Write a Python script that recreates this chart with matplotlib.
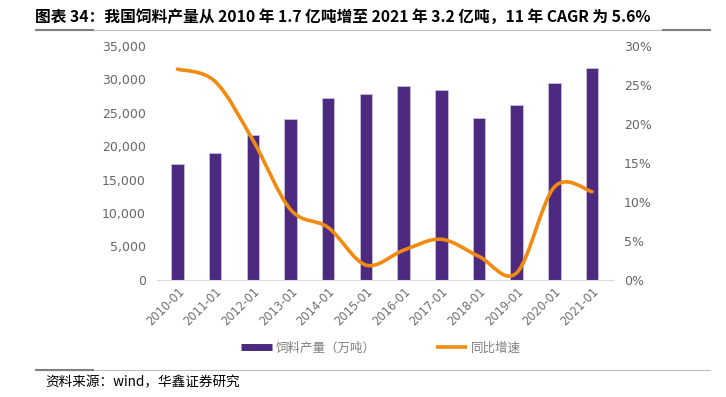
import matplotlib
matplotlib.use("Agg")
import matplotlib.pyplot as plt
from matplotlib.path import Path
from matplotlib.patches import PathPatch
from matplotlib.lines import Line2D
from matplotlib.ticker import FuncFormatter, MultipleLocator
import numpy as np

plt.rcParams['font.family'] = ['Noto Sans CJK SC', 'DejaVu Sans']

categories = ["2010-01", "2011-01", "2012-01", "2013-01", "2014-01", "2015-01",
              "2016-01", "2017-01", "2018-01", "2019-01", "2020-01", "2021-01"]
production = [17300, 19000, 21600, 24000, 27200, 27800, 29000, 28400, 24200, 26100, 29400, 31600]
growth = [27.0, 25.4, 17.9, 9.0, 6.7, 1.9, 3.8, 5.2, 3.0, 0.9, 11.9, 11.3]

title = "图表 34：我国饲料产量从 2010 年 1.7 亿吨增至 2021 年 3.2 亿吨，11 年 CAGR 为 5.6%"
source = "资料来源：wind，华鑫证券研究"
bar_label = "饲料产量（万吨）"
line_label = "同比增速"

purple = "#4B2A80"
orange = "#F28A0F"
gray_txt = "#7F7F7F"

fig = plt.figure(figsize=(7.26, 3.97), dpi=100)
ax = fig.add_axes([0.216, 0.295, 0.628, 0.590])
ax2 = ax.twinx()

x = np.arange(len(categories))
ax.bar(x, production, width=0.33, color=purple, edgecolor="#C9BEDD", linewidth=0.6, zorder=2)

ax.set_xlim(-0.55, len(categories) - 0.45)
ax.set_ylim(0, 35000)
ax.yaxis.set_major_locator(MultipleLocator(5000))
ax.yaxis.set_major_formatter(FuncFormatter(lambda v, p: f"{int(v):,}"))
ax2.set_ylim(0, 30)
ax2.yaxis.set_major_locator(MultipleLocator(5))
ax2.yaxis.set_major_formatter(FuncFormatter(lambda v, p: f"{int(v)}%"))

for a in (ax, ax2):
    for s in ("top", "left", "right"):
        a.spines[s].set_visible(False)
    a.spines["bottom"].set_color("#D9D9D9")
    a.tick_params(length=0, labelsize=9, labelcolor="#666666", pad=8)
ax2.spines["bottom"].set_visible(False)

ax.set_xticks(x)
ax.set_xticklabels(categories, rotation=45, ha="right", rotation_mode="anchor",
                   fontsize=8.3, family="DejaVu Sans", color="#6E6E6E")
ax.tick_params(axis="x", pad=4)
for lab in ax.get_yticklabels() + ax2.get_yticklabels():
    lab.set_family("DejaVu Sans")

# smoothed line (Catmull-Rom -> cubic Bezier through the data points)
pts = np.column_stack([x, growth]).astype(float)
n = len(pts)
verts = [tuple(pts[0])]
codes = [Path.MOVETO]
for i in range(n - 1):
    p0 = pts[i - 1] if i > 0 else pts[i]
    p1 = pts[i]
    p2 = pts[i + 1]
    p3 = pts[i + 2] if i + 2 < n else pts[i + 1]
    c1 = p1 + (p2 - p0) / 6.0
    c2 = p2 - (p3 - p1) / 6.0
    verts += [tuple(c1), tuple(c2), tuple(p2)]
    codes += [Path.CURVE4] * 3
path = Path(verts, codes)
ax2.add_patch(PathPatch(path, facecolor="none", edgecolor=orange, lw=2.6,
                        capstyle="round", joinstyle="round", zorder=3))

# legend
handles = [Line2D([0], [0], color=purple, lw=5, solid_capstyle="butt"),
           Line2D([0], [0], color=orange, lw=2.6, solid_capstyle="butt")]
fig.legend(handles, [bar_label, line_label], loc="center", bbox_to_anchor=(0.525, 0.123),
           ncol=2, frameon=False, fontsize=9, labelcolor=gray_txt, handlelength=2.5,
           handletextpad=0.3, columnspacing=4.8)

# title and rules
fig.text(0.048, 0.957, title, fontsize=11.3, fontweight="bold", color="black", va="center")
fig.add_artist(Line2D([0.05, 0.978], [0.925, 0.925], color="#BFBFBF", lw=0.8, transform=fig.transFigure))
fig.add_artist(Line2D([0.05, 0.128], [0.925, 0.925], color="#7F7F7F", lw=1.5, transform=fig.transFigure))
fig.add_artist(Line2D([0.913, 0.978], [0.925, 0.925], color="#7F7F7F", lw=1.5, transform=fig.transFigure))
fig.add_artist(Line2D([0.05, 0.978], [0.068, 0.068], color="#BFBFBF", lw=0.8, transform=fig.transFigure))
fig.add_artist(Line2D([0.05, 0.128], [0.068, 0.068], color="#7F7F7F", lw=1.5, transform=fig.transFigure))
fig.text(0.062, 0.037, source, fontsize=9.8, color="black", va="center")

fig.savefig("out.png", dpi=100)
